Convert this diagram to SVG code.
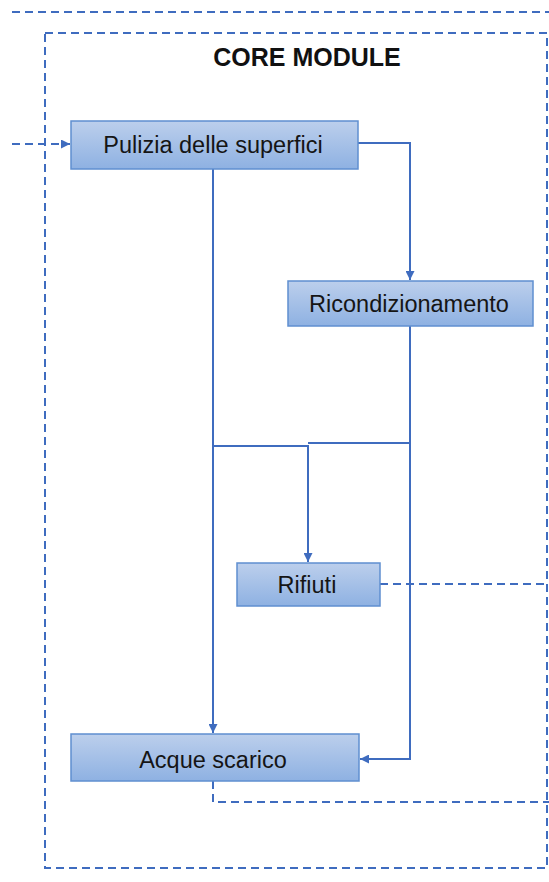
<svg xmlns="http://www.w3.org/2000/svg" width="549" height="882" viewBox="0 0 549 882">
<style>
.box{fill:url(#g);stroke:#5f8fd0;stroke-width:1.5}
.lbl{font-family:"Liberation Sans",Arial,sans-serif;font-size:23.5px;fill:#151515;text-anchor:middle}
.ttl{font-family:"Liberation Sans",Arial,sans-serif;font-size:25px;font-weight:bold;fill:#111;text-anchor:middle}
.c{fill:none;stroke:#3f6cbf;stroke-width:2}
.d{fill:none;stroke:#3f6cbf;stroke-width:2;stroke-dasharray:8 5}
</style>
<defs>
<linearGradient id="g" x1="0" y1="0" x2="0" y2="1">
<stop offset="0" stop-color="#bccfec"/>
<stop offset="1" stop-color="#8eb1e2"/>
</linearGradient>
<marker id="a" viewBox="0 0 10 10" refX="10" refY="5" markerWidth="4.5" markerHeight="4.5" orient="auto" markerUnits="strokeWidth">
<path d="M0,0 L10,5 L0,10 z" fill="#3f6cbf"/>
</marker>
</defs>
<rect x="0" y="0" width="549" height="882" fill="#fff"/>
<g id="frame">
<line class="d" x1="12" y1="12" x2="549" y2="12"/>
<rect class="d" x="45" y="33" width="502" height="835"/>
<text class="ttl" x="307" y="66">CORE MODULE</text>
</g>
<g id="connectors">
<line class="d" x1="12" y1="144" x2="70" y2="144" marker-end="url(#a)"/>
<path class="c" d="M358,143 H410 V280" marker-end="url(#a)"/>
<path class="c" d="M213,169 V733" marker-end="url(#a)"/>
<path class="c" d="M213,446 H308 V562" marker-end="url(#a)"/>
<path class="c" d="M410,326 V443 H308"/>
<path class="c" d="M410,443 V759 H360" marker-end="url(#a)"/>
<line class="d" x1="380" y1="584" x2="549" y2="584"/>
<path class="d" d="M213,781 V802 H549"/>
</g>
<g id="pulizia">
<rect class="box" x="71" y="121" width="287" height="48"/>
<text class="lbl" x="213" y="153">Pulizia delle superfici</text>
</g>
<g id="ricondizionamento">
<rect class="box" x="288" y="281" width="245" height="45"/>
<text class="lbl" x="409" y="312">Ricondizionamento</text>
</g>
<g id="rifiuti">
<rect class="box" x="237" y="563" width="143" height="43"/>
<text class="lbl" x="307" y="593">Rifiuti</text>
</g>
<g id="acque">
<rect class="box" x="71" y="734" width="288" height="47"/>
<text class="lbl" x="213" y="768">Acque scarico</text>
</g>
</svg>
